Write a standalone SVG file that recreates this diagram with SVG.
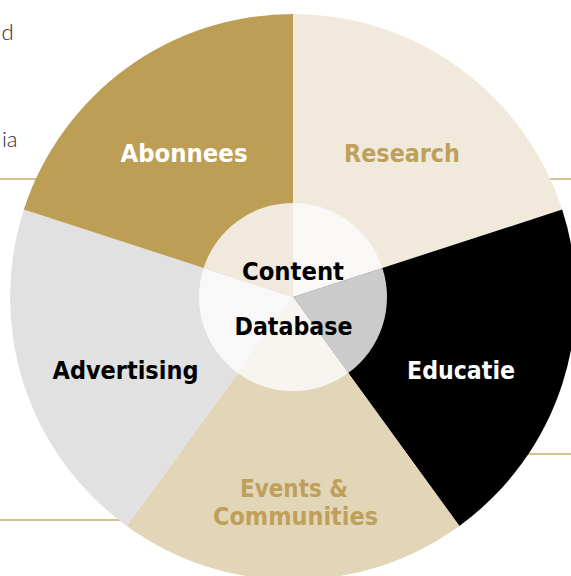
<svg xmlns="http://www.w3.org/2000/svg" width="571" height="576" viewBox="0 0 571 576">
  <style>
    .lbl { font-family: "DejaVu Sans", "Liberation Sans", sans-serif; font-weight: bold; font-size: 24px; text-anchor: middle; }
    .side { font-family: "Lato", "Open Sans", sans-serif; font-weight: 300; font-size: 22px; fill: #2b2b2b; text-anchor: end; }
    .rule { stroke: #c9ab6b; stroke-width: 1.5; fill: none; }
  </style>
  <rect width="571" height="576" fill="#ffffff"/>
  <text class="side" x="13.5" y="40">d</text>
  <text class="side" x="17.5" y="147">ia</text>
  <g id="rules">
    <line class="rule" x1="0" y1="179" x2="120" y2="179"/>
    <line class="rule" x1="470" y1="179" x2="571" y2="179"/>
    <line class="rule" x1="0" y1="520" x2="200" y2="520"/>
    <line class="rule" x1="420" y1="454" x2="571" y2="454"/>
  </g>
  <g id="connectors"></g>
  <g id="research">
    <path d="M293,297 L293,14 A283,283 0 0 1 562.15,209.55 Z" fill="#f1e9dc"/>
    <text class="lbl" x="402" y="161.5" fill="#bfa05a" textLength="116" lengthAdjust="spacingAndGlyphs">Research</text>
  </g>
  <g id="educatie">
    <path d="M293,297 L562.15,209.55 A283,283 0 0 1 459.34,525.95 Z" fill="#000000"/>
    <text class="lbl" x="461" y="378.5" fill="#ffffff" textLength="108" lengthAdjust="spacingAndGlyphs">Educatie</text>
  </g>
  <g id="events">
    <path d="M293,297 L459.34,525.95 A283,283 0 0 1 126.66,525.95 Z" fill="#e3d5b8"/>
    <text class="lbl" x="294" y="497" fill="#bfa05a" textLength="108" lengthAdjust="spacingAndGlyphs">Events &amp;</text>
    <text class="lbl" x="295.5" y="525" fill="#bfa05a" textLength="165" lengthAdjust="spacingAndGlyphs">Communities</text>
  </g>
  <g id="advertising">
    <path d="M293,297 L126.66,525.95 A283,283 0 0 1 23.85,209.55 Z" fill="#e1e1e1"/>
    <text class="lbl" x="125.5" y="378.5" fill="#000000" textLength="146" lengthAdjust="spacingAndGlyphs">Advertising</text>
  </g>
  <g id="abonnees">
    <path d="M293,297 L23.85,209.55 A283,283 0 0 1 293,14 Z" fill="#bd9e55"/>
    <text class="lbl" x="184" y="161.5" fill="#ffffff" textLength="127" lengthAdjust="spacingAndGlyphs">Abonnees</text>
  </g>
  <g id="content-database">
    <path d="M293,297 L293,203 A94,94 0 0 1 382.4,267.95 Z" fill="#f9f8f6"/>
    <path d="M293,297 L382.4,267.95 A94,94 0 0 1 348.25,373.05 Z" fill="#cbcbcb"/>
    <path d="M293,297 L348.25,373.05 A94,94 0 0 1 237.75,373.05 Z" fill="#f8f5f0"/>
    <path d="M293,297 L237.75,373.05 A94,94 0 0 1 203.6,267.95 Z" fill="#f8f8f8"/>
    <path d="M293,297 L203.6,267.95 A94,94 0 0 1 293,203 Z" fill="#f1e9dd"/>
    <text class="lbl" x="293" y="280" fill="#000000" textLength="102" lengthAdjust="spacingAndGlyphs">Content</text>
    <text class="lbl" x="293.5" y="334.5" fill="#000000" textLength="118" lengthAdjust="spacingAndGlyphs">Database</text>
  </g>
</svg>
